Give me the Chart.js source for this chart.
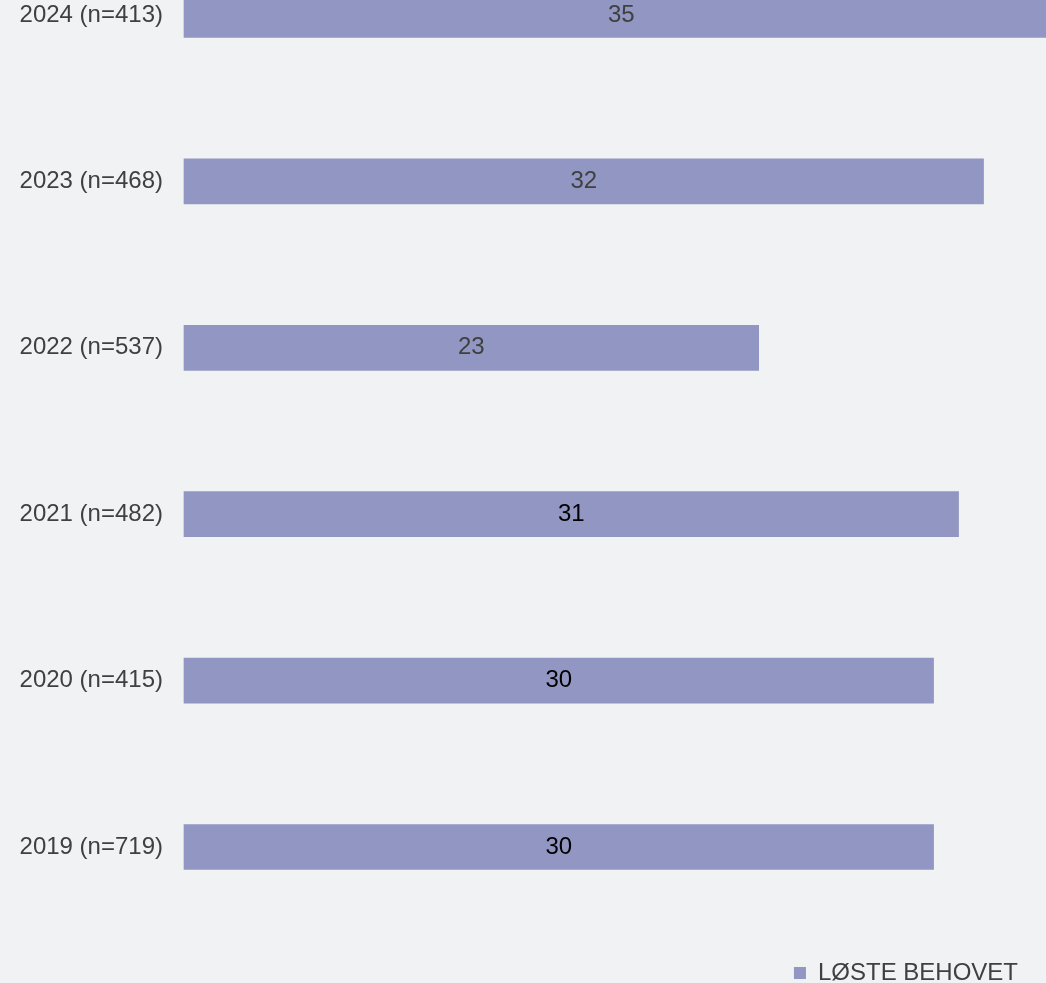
<!DOCTYPE html>
<html>
<head>
<meta charset="utf-8">
<script src="https://cdn.jsdelivr.net/npm/chart.js@4"></script>
<style>
  html, body { margin: 0; padding: 0; background: #f1f2f4; }
  #wrap { width: 1046px; height: 983px; position: relative; }
</style>
</head>
<body>
<div id="wrap"><canvas id="chart"></canvas></div>
<script>
const years = ['2024 (n=413)', '2023 (n=468)', '2022 (n=537)', '2021 (n=482)', '2020 (n=415)', '2019 (n=719)']
const losteBehovet = [35, 32, 23, 31, 30, 30]
const seriesName = 'LØSTE BEHOVET'
const labelColors = ['#404040', '#404040', '#404040', '#000000', '#000000', '#000000']

const barColor = '#9196c2'
const font = {family: "'Liberation Sans', Arial, sans-serif", size: 24}

// value labels in the middle of each bar
const barLabels = {
  id: 'barLabels',
  afterDatasetsDraw(chart) {
    const {ctx} = chart
    const meta = chart.getDatasetMeta(0)
    ctx.save()
    ctx.font = `${font.size}px ${font.family}`
    ctx.textAlign = 'center'
    ctx.textBaseline = 'middle'
    meta.data.forEach((bar, i) => {
      ctx.fillStyle = labelColors[i]
      ctx.fillText(String(losteBehovet[i]), (bar.x + bar.base) / 2, bar.y)
    })
    ctx.restore()
  }
}

new Chart(document.getElementById('chart'), {
  type: 'bar',
  data: {
    labels: years,
    datasets: [{
      label: seriesName,
      data: losteBehovet,
      backgroundColor: barColor,
      barThickness: 45,
      clip: false,
    }],
  },
  options: {
    indexAxis: 'y',
    responsive: true,
    maintainAspectRatio: false,
    animation: false,
    layout: {padding: {top: 15, right: 0, bottom: -12, left: 0}},
    scales: {
      x: {
        min: 0,
        max: 34.5,
        grid: {display: false},
        border: {display: false},
        ticks: {display: false},
        afterFit(scale) { scale.height = 86 },
      },
      y: {
        offset: false,
        grid: {display: false, drawTicks: false},
        border: {display: false},
        ticks: {color: '#404040', font, padding: 21},
        afterFit(scale) {
          scale.width = 184
          scale.paddingTop = 0
          scale.paddingBottom = 0
        },
      },
    },
    plugins: {
      tooltip: {enabled: false},
      legend: {
        position: 'bottom',
        align: 'end',
        labels: {
          color: '#404040',
          font,
          boxWidth: 12,
          boxHeight: 12,
          padding: 28,
        },
      },
    },
  },
  plugins: [barLabels],
})
</script>
</body>
</html>
